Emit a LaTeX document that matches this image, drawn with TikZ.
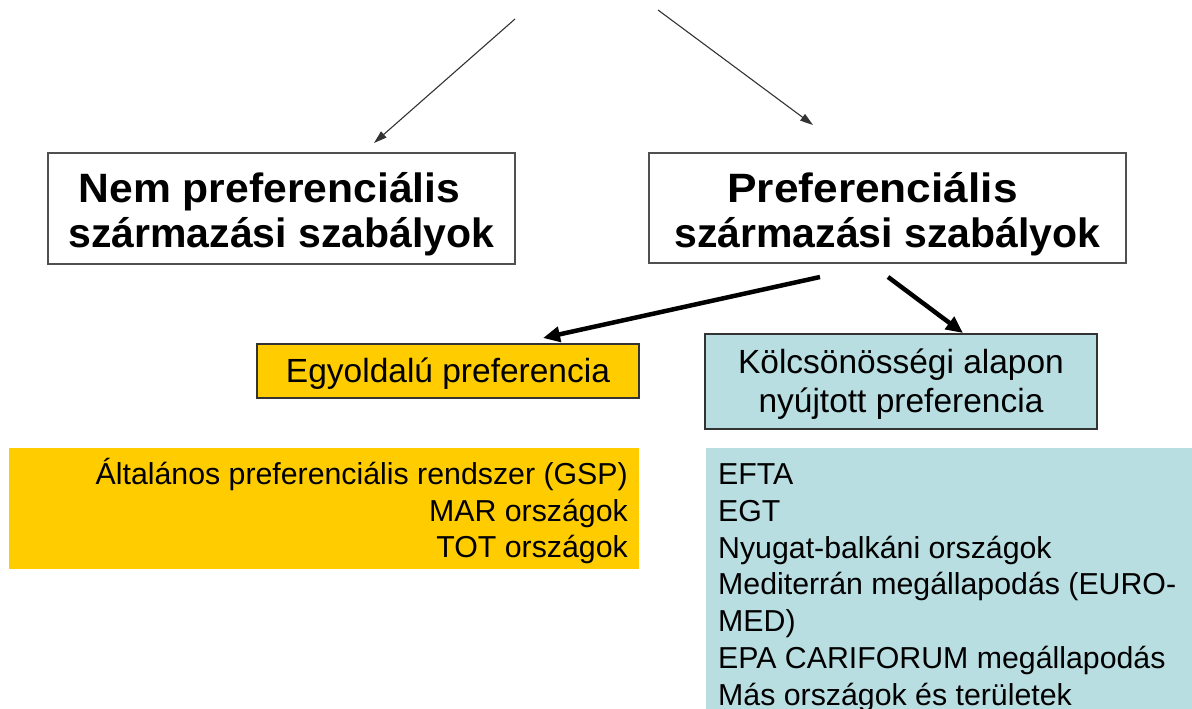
\documentclass[tikz,border=0pt]{standalone}
\usepackage{fontspec}
\setmainfont{Liberation Sans}
\usetikzlibrary{arrows.meta}
\definecolor{ygold}{RGB}{255,204,0}
\definecolor{lblue}{RGB}{184,222,226}
\definecolor{bordergray}{RGB}{80,80,80}
\begin{document}
\begin{tikzpicture}[x=1pt,y=-1pt,
  titlebox/.style={draw=bordergray,line width=1.3pt,fill=white,inner sep=0pt,align=center,
    font=\fontsize{41}{45}\selectfont\bfseries},
  subbox/.style={draw=black!80,line width=1.3pt,inner sep=0pt,align=center,
    font=\fontsize{33.5}{39}\selectfont},
  listfill/.style={inner sep=0pt,draw=none},
  listtext/.style={inner sep=0pt,font=\fontsize{30.3}{36.8}\selectfont},
  thinarrow/.style={draw=black!80,line width=1.1pt,-{Triangle[length=13pt,width=8pt]}},
  thickarrow/.style={draw=black,line width=4.5pt,-{Triangle[length=17pt,width=15pt]}}
]
\path[use as bounding box] (0,0) rectangle (1192,709);

% title boxes
\node[titlebox,minimum width=467pt,minimum height=111pt,text height=80pt,text depth=3pt] (nem) at (281.5,208.5)
  {\scalebox{1.04}[1]{Nem preferenciális}\hspace*{24pt}\\származási szabályok};
\node[titlebox,minimum width=477pt,minimum height=110pt,text height=81pt,text depth=3pt] (pref) at (887.5,208)
  {\scalebox{1.08}[1]{Preferenciális}\hspace*{30pt}\\származási szabályok};

% sub boxes
\node[subbox,fill=ygold,minimum width=382pt,minimum height=54pt,text height=25pt,text depth=3pt] (egy) at (448,371)
  {Egyoldalú preferencia};
\node[subbox,fill=lblue,minimum width=392pt,minimum height=95pt,text height=64pt,text depth=3pt] (kolcs) at (901,381.5)
  {Kölcsönösségi alapon\\nyújtott preferencia};

% lists
\node[listfill,fill=ygold,minimum width=630pt,minimum height=121pt] (ylist) at (324,508.5) {};
\node[listfill,fill=lblue,minimum width=486pt,minimum height=261pt] (blist) at (949,578.5) {};
\node[listtext,anchor=north east,align=right,text height=95.2pt] (ytext) at (628,462.5)
  {Általános preferenciális rendszer (GSP)\\MAR országok\\TOT országok};
\node[listtext,anchor=north west,align=left,text height=242.6pt] (btext) at (718,462.5)
  {EFTA\\EGT\\Nyugat-balkáni országok\\Mediterrán megállapodás (EURO-\\MED)\\EPA CARIFORUM megállapodás\\Más országok és területek};

% arrows
\coordinate (ts1) at (515,19);
\coordinate (te1) at (374,143);
\coordinate (ts2) at (658,10);
\coordinate (te2) at (813,125);
\draw[thinarrow] (ts1) -- (te1);
\draw[thinarrow] (ts2) -- (te2);

\coordinate (ps1) at (820,277);
\coordinate (pe1) at (543,338);
\coordinate (ps2) at (888,277);
\coordinate (pe2) at (963,333);
\draw[thickarrow] (ps1) -- (pe1);
\draw[thickarrow] (ps2) -- (pe2);
\end{tikzpicture}
\end{document}
